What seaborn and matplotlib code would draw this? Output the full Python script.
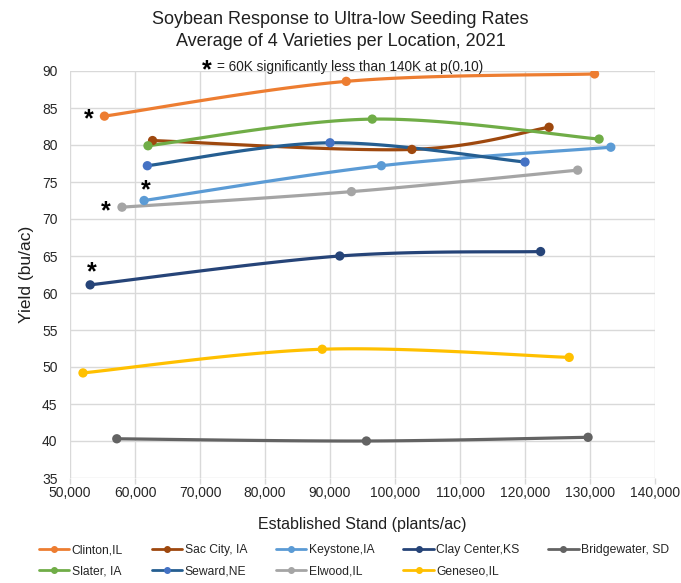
import numpy as np
import pandas as pd
import matplotlib
matplotlib.use("Agg")
import matplotlib.pyplot as plt
import seaborn as sns
from matplotlib.lines import Line2D

# data (stand in plants/ac, yield in bu/ac)
locations = ["Clinton,IL", "Sac City, IA", "Keystone,IA", "Clay Center,KS", "Bridgewater, SD",
             "Slater, IA", "Seward,NE", "Elwood,IL", "Geneseo,IL"]
stand = {
    "Clinton,IL": [55300, 92500, 130700],
    "Sac City, IA": [62700, 102600, 123700],
    "Keystone,IA": [61400, 97900, 133200],
    "Clay Center,KS": [53100, 91500, 122400],
    "Bridgewater, SD": [57200, 95600, 129700],
    "Slater, IA": [62000, 96500, 131400],
    "Seward,NE": [61900, 90000, 120000],
    "Elwood,IL": [58000, 93300, 128100],
    "Geneseo,IL": [52000, 88800, 126800],
}
yields = {
    "Clinton,IL": [83.9, 88.6, 89.6],
    "Sac City, IA": [80.6, 79.4, 82.4],
    "Keystone,IA": [72.5, 77.2, 79.7],
    "Clay Center,KS": [61.1, 65.0, 65.6],
    "Bridgewater, SD": [40.3, 40.0, 40.5],
    "Slater, IA": [79.9, 83.5, 80.8],
    "Seward,NE": [77.2, 80.3, 77.7],
    "Elwood,IL": [71.6, 73.7, 76.6],
    "Geneseo,IL": [49.2, 52.4, 51.3],
}
# significance stars and where they sit next to the first point (offset points)
star_offsets = {"Clinton,IL": (-11, -2), "Keystone,IA": (1, 7), "Elwood,IL": (-12, -3),
                "Clay Center,KS": (1, 9)}

line_colors = {
    "Clinton,IL": "#ED7D31", "Sac City, IA": "#9E480E", "Keystone,IA": "#5B9BD5",
    "Clay Center,KS": "#264478", "Bridgewater, SD": "#636363", "Slater, IA": "#70AD47",
    "Seward,NE": "#255E91", "Elwood,IL": "#A5A5A5", "Geneseo,IL": "#FFC000",
}
marker_colors = dict(line_colors)
marker_colors["Seward,NE"] = "#4472C4"


def smooth(x, y, n=40):
    # excel-like smoothed line (catmull-rom through the points)
    p = np.column_stack([x, y]).astype(float)
    p = np.vstack([p[0], p, p[-1]])
    out = []
    t = np.linspace(0, 1, n)[:, None]
    for i in range(1, len(p) - 2):
        p0, p1, p2, p3 = p[i - 1], p[i], p[i + 1], p[i + 2]
        c = 0.5 * ((2 * p1) + (-p0 + p2) * t + (2 * p0 - 5 * p1 + 4 * p2 - p3) * t ** 2
                   + (-p0 + 3 * p1 - 3 * p2 + p3) * t ** 3)
        out.append(c if i == 1 else c[1:])
    c = np.vstack(out)
    return c[:, 0], c[:, 1]


rows = []
curves = []
for loc in locations:
    for xv, yv in zip(stand[loc], yields[loc]):
        rows.append({"loc": loc, "stand": xv, "yield": yv})
    sx, sy = smooth(stand[loc], yields[loc])
    curves.append(pd.DataFrame({"loc": loc, "stand": sx, "yield": sy}))
pts = pd.DataFrame(rows)
curve = pd.concat(curves, ignore_index=True)

sns.set_theme(style="whitegrid")
plt.rcParams["font.family"] = ["Liberation Sans", "DejaVu Sans"]

fig = plt.figure(figsize=(6.81, 5.83), dpi=100)
ax = fig.add_axes([70 / 681, 1 - 478 / 583, 585 / 681, 407 / 583])

sns.lineplot(data=curve, x="stand", y="yield", hue="loc", estimator=None, sort=False,
             palette=line_colors, linewidth=2.3, legend=False, ax=ax)
sns.scatterplot(data=pts, x="stand", y="yield", hue="loc", palette=marker_colors,
                s=45, edgecolor="none", legend=False, ax=ax, zorder=3)

for loc, off in star_offsets.items():
    ax.annotate("*", (stand[loc][0], yields[loc][0]), xytext=off, textcoords="offset points",
                ha="center", va="center", fontsize=18, fontweight="bold", color="black")

ax.set_xlim(50000, 140000)
ax.set_ylim(35, 90)
ax.set_xticks(np.arange(50000, 140001, 10000))
ax.set_yticks(np.arange(35, 91, 5))
ax.xaxis.set_major_formatter(matplotlib.ticker.StrMethodFormatter("{x:,.0f}"))
ax.tick_params(labelsize=10, colors="#262626", pad=3)
ax.tick_params(axis="x", bottom=True, length=4, width=1, color="#D9D9D9", pad=2)
ax.grid(color="#D9D9D9", linewidth=1)
for s in ax.spines.values():
    s.set_visible(False)
ax.set_xlabel("Established Stand (plants/ac)", fontsize=11.5, color="#202020", labelpad=12)
ax.set_ylabel("Yield (bu/ac)", fontsize=12.5, color="#202020", labelpad=6)

fig.text(0.5, 1 - 20 / 583, "Soybean Response to Ultra-low Seeding Rates", ha="center", va="center",
         fontsize=13, color="#202020")
fig.text(0.5, 1 - 42 / 583, "Average of 4 Varieties per Location, 2021", ha="center", va="center",
         fontsize=13, color="#202020")
fig.text(217 / 681, 1 - 67 / 583, "= 60K significantly less than 140K at p(0.10)", ha="left",
         va="center", fontsize=9.8, color="#202020")
fig.text(207 / 681, 1 - 70 / 583, "*", ha="center", va="center", fontsize=18, fontweight="bold",
         color="black")

order = ["Clinton,IL", "Slater, IA", "Sac City, IA", "Seward,NE", "Keystone,IA", "Elwood,IL",
         "Clay Center,KS", "Geneseo,IL", "Bridgewater, SD"]
handles = [Line2D([], [], color=line_colors[l], marker="o", markersize=4,
                  markerfacecolor=marker_colors[l], markeredgecolor=marker_colors[l], linewidth=2)
           for l in order]
fig.legend(handles, order, loc="center", bbox_to_anchor=(0.52, 1 - 561 / 583), ncol=5,
           frameon=False, fontsize=8.7, handlelength=2.5, handletextpad=0.2, columnspacing=2.4,
           labelspacing=0.75)

fig.savefig("out.png", dpi=100)
